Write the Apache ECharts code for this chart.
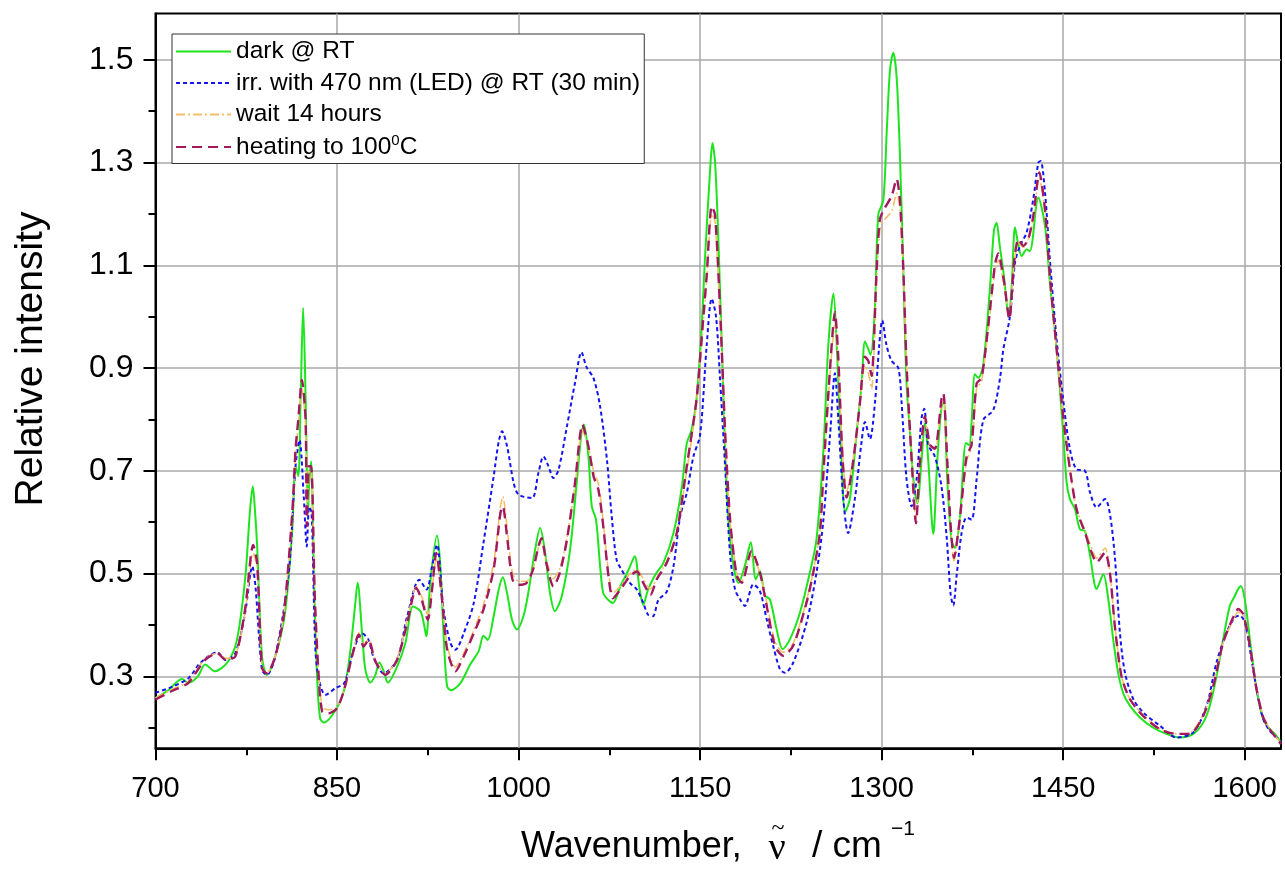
<!DOCTYPE html>
<html><head><meta charset="utf-8">
<script src="https://cdn.jsdelivr.net/npm/echarts@6/dist/echarts.min.js"></script>
<style>html,body{margin:0;padding:0;background:#fff}#chart{width:1285px;height:870px}</style>
</head><body><div id="chart"></div>
<script>
const xTicks = [700, 850, 1000, 1150, 1300, 1450, 1600];
const xMinorTicks = [775, 925, 1075, 1225, 1375, 1525];
const yTicks = [0.3, 0.5, 0.7, 0.9, 1.1, 1.3, 1.5];
const yMinorTicks = [0.2, 0.4, 0.6, 0.8, 1.0, 1.2, 1.4];
const seriesNames = ['dark @ RT', 'irr. with 470 nm (LED) @ RT (30 min)', 'wait 14 hours', 'heating to 100\u2070C'];

const darkRT = [[700,0.258],[710,0.272],[722,0.295],[727,0.287],[735,0.30],[741,0.323],[749,0.31],[759,0.326],[767,0.368],[774,0.488],[778,0.62],[780.4,0.670],[782,0.63],[784,0.553],[788,0.339],[792,0.303],[799,0.339],[807,0.423],[813,0.585],[815.7,0.709],[818,0.69],[820,0.85],[822,1.017],[824,0.845],[826,0.618],[827,0.676],[828.6,0.718],[831,0.488],[833.6,0.294],[836,0.219],[839,0.21],[849,0.235],[856,0.275],[861,0.35],[865,0.44],[867,0.482],[870.7,0.384],[873.4,0.313],[877.5,0.288],[881.7,0.303],[885,0.327],[888.6,0.31],[892,0.288],[899.6,0.319],[906.5,0.365],[912.8,0.436],[918.9,0.427],[921.6,0.404],[923.8,0.378],[927,0.482],[932.6,0.574],[935.4,0.514],[938,0.384],[940.9,0.281],[944,0.273],[952,0.287],[960,0.323],[967,0.349],[971,0.379],[974.5,0.371],[979.4,0.417],[983.6,0.469],[987,0.493],[990.5,0.462],[994.6,0.41],[998.7,0.391],[1004,0.417],[1008,0.462],[1013.7,0.547],[1017.8,0.589],[1022,0.54],[1026,0.462],[1030,0.427],[1035.7,0.456],[1042.6,0.547],[1048,0.676],[1052,0.774],[1054,0.79],[1057.7,0.728],[1060.5,0.631],[1064,0.605],[1067.4,0.514],[1070,0.462],[1074,0.449],[1078,0.443],[1084,0.475],[1091,0.508],[1096,0.534],[1099.7,0.475],[1103,0.439],[1107,0.469],[1113,0.498],[1119.7,0.521],[1128,0.579],[1135,0.67],[1139,0.754],[1143,0.78],[1147,0.838],[1151,0.968],[1154.1,1.116],[1158.3,1.287],[1160.2,1.338],[1162.4,1.30],[1165.1,1.15],[1167.9,0.946],[1170.7,0.741],[1173.4,0.605],[1177.5,0.517],[1181.7,0.482],[1187.2,0.517],[1191.9,0.561],[1196,0.489],[1199.4,0.505],[1203.6,0.457],[1207.7,0.45],[1213.2,0.392],[1218.2,0.353],[1224.2,0.372],[1232.5,0.424],[1240.7,0.502],[1246.2,0.567],[1251.9,0.741],[1256,0.946],[1260.2,1.045],[1262.8,0.95],[1266.9,0.721],[1269.9,0.62],[1273.8,0.646],[1279.3,0.773],[1283.5,0.87],[1286.2,0.952],[1289,0.937],[1290.9,0.926],[1294.5,1.019],[1297.2,1.198],[1301.4,1.227],[1304.1,1.354],[1306.9,1.48],[1309.6,1.514],[1312.4,1.466],[1315.1,1.317],[1317.9,1.093],[1320.6,0.87],[1324,0.758],[1326.2,0.684],[1329.5,0.637],[1333,0.721],[1335.8,0.795],[1338.5,0.721],[1342.7,0.577],[1346,0.721],[1349.5,0.825],[1351.5,0.833],[1354.2,0.684],[1357.8,0.564],[1360.6,0.55],[1364.7,0.609],[1369.7,0.754],[1372.4,0.75],[1374.3,0.795],[1377.1,0.888],[1379.9,0.881],[1384,0.907],[1389.5,1.056],[1392.8,1.168],[1395,1.183],[1397.5,1.14],[1401,1.08],[1405,1.0],[1407.5,1.06],[1410.2,1.174],[1413,1.14],[1415.7,1.118],[1419.8,1.131],[1422.5,1.128],[1429.5,1.232],[1435,1.177],[1439,1.067],[1444.6,0.937],[1450,0.774],[1452.9,0.677],[1455.6,0.645],[1459.8,0.625],[1463.9,0.586],[1468,0.583],[1472.2,0.535],[1477.7,0.47],[1483.2,0.499],[1487.3,0.45],[1492,0.36],[1496,0.3],[1500,0.265],[1505.1,0.243],[1513.4,0.22],[1524.4,0.20],[1535.4,0.188],[1546.4,0.181],[1557.5,0.188],[1565.7,0.21],[1571.2,0.243],[1576.7,0.30],[1582.2,0.372],[1587.7,0.437],[1591.9,0.457],[1594.6,0.47],[1596.8,0.476],[1600.1,0.45],[1604.3,0.372],[1609.8,0.275],[1615.3,0.217],[1620.8,0.197],[1625,0.188],[1630,0.171]];

const irradiated = [[700,0.268],[714,0.28],[727.5,0.297],[737,0.326],[751,0.347],[758,0.332],[766,0.345],[774,0.423],[780,0.514],[782.6,0.475],[788,0.313],[792,0.303],[799,0.339],[810,0.50],[815.7,0.709],[819,0.76],[822.5,0.65],[825,0.553],[827,0.63],[829,0.618],[832,0.358],[835,0.294],[840.5,0.264],[848.7,0.277],[856,0.287],[863.8,0.352],[870.7,0.384],[876,0.371],[880,0.339],[888.6,0.306],[899.6,0.332],[908,0.417],[918,0.488],[924,0.469],[928.5,0.514],[932.6,0.556],[938,0.43],[943.6,0.365],[947.8,0.352],[954.7,0.384],[963,0.443],[971,0.56],[979.4,0.689],[983.6,0.757],[986.3,0.777],[990.5,0.748],[996,0.676],[1000,0.654],[1011,0.647],[1016.4,0.696],[1020.6,0.728],[1024.7,0.709],[1028.8,0.686],[1033,0.702],[1040,0.787],[1046.6,0.871],[1052,0.931],[1056,0.903],[1062,0.88],[1067.4,0.825],[1073,0.722],[1077,0.611],[1081,0.527],[1085,0.508],[1092,0.482],[1097.7,0.469],[1103,0.443],[1107,0.42],[1111,0.417],[1115.6,0.449],[1122.5,0.465],[1128,0.514],[1133.5,0.611],[1139,0.657],[1144.5,0.728],[1150,0.77],[1155.5,0.946],[1159.6,1.035],[1163.2,1.0],[1166.5,0.878],[1170.7,0.707],[1174.8,0.537],[1178.9,0.469],[1183,0.45],[1187,0.437],[1194,0.479],[1199.4,0.466],[1205,0.411],[1210.4,0.359],[1216,0.314],[1220.1,0.307],[1227,0.327],[1238,0.405],[1246.2,0.502],[1251.7,0.6],[1257.4,0.77],[1261.4,0.89],[1264.2,0.8],[1268.3,0.646],[1272.3,0.579],[1277.9,0.646],[1283.5,0.758],[1286.2,0.795],[1290.3,0.762],[1294.5,0.833],[1298,0.944],[1300.5,0.993],[1304.1,0.944],[1308.3,0.914],[1313.8,0.9],[1316.5,0.833],[1320.6,0.684],[1324.8,0.631],[1328.9,0.684],[1333,0.803],[1335.2,0.821],[1338.5,0.751],[1344,0.728],[1349.5,0.669],[1353.7,0.572],[1357,0.46],[1359.2,0.438],[1362,0.497],[1366.1,0.579],[1370.2,0.609],[1374.3,0.605],[1378.5,0.684],[1384,0.799],[1392.2,0.818],[1397.8,0.88],[1400.6,0.937],[1406,1.0],[1410.2,1.105],[1414.3,1.138],[1419.8,1.164],[1425.3,1.229],[1429.5,1.30],[1431.4,1.303],[1435,1.242],[1439,1.112],[1444.6,0.956],[1450,0.839],[1455.6,0.742],[1461.1,0.703],[1468,0.70],[1472.2,0.658],[1477.7,0.629],[1484.6,0.645],[1488.7,0.615],[1492.8,0.53],[1496.9,0.385],[1501,0.308],[1507.9,0.256],[1516.1,0.23],[1529.9,0.204],[1543.7,0.181],[1557.5,0.191],[1568.5,0.243],[1576.7,0.327],[1585,0.385],[1591.9,0.415],[1596,0.418],[1600.1,0.405],[1604.3,0.353],[1609.8,0.275],[1615.3,0.217],[1620.8,0.194],[1626.3,0.181],[1630,0.171]];

const wait14h = [[700,0.258],[714,0.275],[727,0.29],[741,0.335],[751,0.345],[758,0.335],[766,0.34],[774,0.425],[780.7,0.54],[784,0.51],[788,0.32],[792,0.306],[799,0.339],[806,0.42],[813,0.61],[815.7,0.73],[818,0.79],[821,0.86],[824,0.79],[825.5,0.62],[827,0.70],[828.6,0.70],[831.6,0.46],[835,0.3],[838,0.24],[843,0.235],[850,0.24],[856,0.275],[862,0.335],[868,0.385],[872,0.362],[876,0.372],[881.7,0.332],[890,0.305],[899.6,0.335],[908,0.41],[915.5,0.475],[920,0.455],[925,0.42],[928.5,0.47],[932,0.53],[936.8,0.45],[941,0.36],[947.8,0.318],[954.7,0.345],[963,0.39],[971,0.44],[979.4,0.52],[985,0.63],[987,0.65],[990.5,0.59],[995,0.5],[1000,0.485],[1006.7,0.485],[1012,0.51],[1016.4,0.55],[1019,0.56],[1023,0.525],[1028.8,0.49],[1034,0.51],[1040,0.57],[1046.6,0.67],[1052.8,0.78],[1057.7,0.745],[1062,0.7],[1066,0.675],[1070,0.6],[1074,0.51],[1078,0.462],[1085,0.478],[1092,0.5],[1097.7,0.508],[1103,0.49],[1109,0.47],[1114,0.49],[1122.5,0.525],[1130.7,0.58],[1139,0.7],[1147,0.83],[1152.7,0.99],[1155.5,1.07],[1159.6,1.20],[1162.4,1.185],[1166.5,1.0],[1170.7,0.77],[1174.8,0.6],[1180.3,0.5],[1184.4,0.485],[1191.3,0.535],[1198.2,0.51],[1205,0.445],[1210.4,0.38],[1214,0.358],[1218.7,0.347],[1227,0.365],[1238,0.448],[1243.5,0.505],[1249,0.58],[1252,0.7],[1257.4,0.89],[1261.4,0.985],[1264.2,0.91],[1267.8,0.73],[1271.1,0.66],[1276.6,0.725],[1282.1,0.83],[1286.2,0.905],[1289,0.89],[1291.7,0.86],[1295.9,1.07],[1298.6,1.17],[1302.7,1.19],[1308.3,1.205],[1312.4,1.24],[1315.1,1.21],[1317.9,1.09],[1320.6,0.91],[1324.8,0.725],[1328.4,0.605],[1331.7,0.72],[1335.8,0.795],[1339.9,0.75],[1344,0.74],[1349.5,0.83],[1351,0.84],[1354.2,0.72],[1357,0.59],[1359.8,0.525],[1364.7,0.605],[1370.2,0.72],[1374.3,0.745],[1378.5,0.86],[1382.6,0.875],[1388.1,0.975],[1393.6,1.09],[1396.4,1.11],[1400.5,1.07],[1402,1.05],[1405.5,1.0],[1409.4,1.1],[1413,1.145],[1417.1,1.135],[1421.2,1.15],[1425.3,1.19],[1430.3,1.27],[1435,1.205],[1439,1.075],[1444.6,0.935],[1450,0.805],[1455.6,0.7],[1461.1,0.625],[1468,0.585],[1473.5,0.55],[1477.7,0.53],[1484.6,0.55],[1488.7,0.5],[1492.7,0.4],[1498.2,0.3],[1505.1,0.256],[1516.1,0.225],[1529.9,0.198],[1543.7,0.188],[1554.7,0.19],[1565.7,0.225],[1574,0.283],[1582.2,0.365],[1590.5,0.41],[1594.6,0.425],[1598.8,0.418],[1604.3,0.36],[1609.8,0.278],[1615.3,0.222],[1620.8,0.198],[1630,0.17]];

const heating100 = [[700,0.255],[714,0.272],[727,0.287],[741,0.332],[751,0.345],[758,0.332],[766,0.339],[774,0.43],[780.7,0.556],[784,0.52],[788,0.316],[792,0.306],[799,0.339],[806,0.42],[813,0.618],[815.7,0.741],[818,0.8],[821,0.877],[824,0.80],[825,0.592],[826.7,0.709],[828.6,0.709],[831.6,0.456],[835,0.294],[837.7,0.232],[843,0.228],[850,0.238],[856,0.275],[862,0.335],[868,0.381],[872,0.358],[876,0.371],[881.7,0.329],[890,0.303],[899.6,0.332],[908,0.404],[915.5,0.472],[920,0.449],[925,0.41],[928.5,0.469],[932,0.54],[936.8,0.449],[941,0.352],[947.8,0.31],[954.7,0.339],[963,0.384],[971,0.43],[979.4,0.508],[985,0.618],[987,0.631],[990.5,0.572],[995,0.488],[1000,0.478],[1006.7,0.482],[1012,0.508],[1016.4,0.553],[1019,0.569],[1023,0.52],[1028.8,0.475],[1034,0.501],[1040,0.566],[1046.6,0.676],[1052.8,0.79],[1057.7,0.748],[1062,0.689],[1066,0.663],[1070,0.592],[1074,0.501],[1078,0.452],[1085,0.472],[1092,0.495],[1097.7,0.504],[1103,0.482],[1109,0.459],[1114,0.488],[1122.5,0.521],[1130.7,0.579],[1139,0.709],[1147,0.838],[1152.7,1.0],[1155.5,1.082],[1159.6,1.215],[1162.4,1.198],[1166.5,1.014],[1170.7,0.776],[1174.8,0.605],[1180.3,0.496],[1184.4,0.482],[1192.5,0.544],[1199.4,0.502],[1205,0.437],[1210.4,0.372],[1214,0.35],[1218.7,0.34],[1227,0.36],[1238,0.444],[1243.5,0.502],[1249,0.58],[1252,0.7],[1257.4,0.9],[1261.4,1.009],[1264.2,0.92],[1267.8,0.721],[1271.1,0.648],[1276.6,0.721],[1282.1,0.833],[1286.2,0.922],[1289,0.914],[1291.7,0.885],[1295.9,1.093],[1298.6,1.19],[1302.7,1.212],[1308.3,1.235],[1312.4,1.268],[1315.1,1.227],[1317.9,1.093],[1320.6,0.907],[1324.8,0.721],[1328.4,0.598],[1331.7,0.721],[1335.8,0.806],[1339.9,0.751],[1344,0.743],[1349.5,0.84],[1351,0.851],[1354.2,0.721],[1357,0.594],[1359.8,0.531],[1364.7,0.609],[1370.2,0.728],[1374.3,0.751],[1378.5,0.87],[1382.6,0.881],[1388.1,0.982],[1393.6,1.101],[1396.4,1.123],[1400.5,1.078],[1402,1.054],[1405.5,0.995],[1409.4,1.105],[1413,1.151],[1417.1,1.138],[1421.2,1.151],[1425.3,1.196],[1430.3,1.281],[1435,1.209],[1439,1.08],[1444.6,0.937],[1450,0.807],[1455.6,0.703],[1461.1,0.625],[1468,0.58],[1473.5,0.541],[1477.7,0.522],[1484.6,0.541],[1488.7,0.50],[1492.7,0.398],[1498.2,0.30],[1505.1,0.256],[1516.1,0.223],[1529.9,0.197],[1543.7,0.188],[1554.7,0.188],[1565.7,0.223],[1574,0.281],[1582.2,0.366],[1590.5,0.415],[1594.6,0.431],[1598.8,0.421],[1604.3,0.359],[1609.8,0.275],[1615.3,0.22],[1620.8,0.197],[1630,0.168]];

const FONT = '"Liberation Sans", Arial, Helvetica, sans-serif';
const SERIF = '"Liberation Serif", "DejaVu Serif", serif';
const chart = echarts.init(document.getElementById('chart'), null, {renderer: 'canvas'});

const option = {
  animation: false,
  backgroundColor: '#fff',
  grid: {left: 155.5, right: 4, top: 13.6, bottom: 121.7, show: true, borderColor: '#000', borderWidth: 2, backgroundColor: 'transparent'},
  xAxis: [
    {type: 'value', min: 700, max: 1630, position: 'bottom',
     axisLine: {show: true, onZero: false, lineStyle: {color: '#000', width: 2}},
     axisTick: {show: true, length: 12, customValues: xTicks, lineStyle: {color: '#000', width: 2}},
     axisLabel: {customValues: xTicks, fontSize: 29, color: '#000', fontFamily: FONT, margin: 26, formatter: v => String(v)},
     splitLine: {show: true, lineStyle: {color: '#a8a8a8', width: 1.5}}},
    {type: 'value', min: 700, max: 1630, position: 'bottom',
     axisLine: {show: false, onZero: false},
     axisTick: {show: true, length: 7, customValues: xMinorTicks, lineStyle: {color: '#000', width: 2}},
     axisLabel: {show: false}, splitLine: {show: false}}
  ],
  yAxis: [
    {type: 'value', min: 0.16, max: 1.59, position: 'left',
     axisLine: {show: true, onZero: false, lineStyle: {color: '#000', width: 2}},
     axisTick: {show: true, length: 12, customValues: yTicks, lineStyle: {color: '#000', width: 2}},
     axisLabel: {customValues: yTicks, fontSize: 32, color: '#000', fontFamily: FONT, margin: 22, formatter: v => v.toFixed(1)},
     splitLine: {show: true, lineStyle: {color: '#a8a8a8', width: 1.5}}},
    {type: 'value', min: 0.16, max: 1.59, position: 'left',
     axisLine: {show: false, onZero: false},
     axisTick: {show: true, length: 7, customValues: yMinorTicks, lineStyle: {color: '#000', width: 2}},
     axisLabel: {show: false}, splitLine: {show: false}}
  ],
  legend: {
    orient: 'vertical', left: 172, top: 34,
    itemWidth: 55, itemHeight: 14, itemGap: 6.5,
    padding: [5, 4, 4, 3],
    borderColor: '#333', borderWidth: 1, backgroundColor: '#fff',
    itemStyle: {opacity: 0},
    textStyle: {fontSize: 24.5, fontFamily: FONT, color: '#000',
      rich: {sup: {fontSize: 15, fontFamily: FONT, color: '#000', padding: [0, 0, 12, 0]}}},
    formatter: n => n === seriesNames[3] ? 'heating to 100{sup|0}C' : n,
    data: seriesNames
  },
  series: [
    {name: seriesNames[0], type: 'line', data: darkRT, showSymbol: false, symbol: 'none', smooth: 0.3, z: 2,
     lineStyle: {color: '#1ee41e', width: 2}, itemStyle: {color: '#1ee41e'}},
    {name: seriesNames[1], type: 'line', data: irradiated, showSymbol: false, symbol: 'none', smooth: 0.3, z: 3,
     lineStyle: {color: '#1414f0', width: 2, type: [4, 3]}, itemStyle: {color: '#1414f0'}},
    {name: seriesNames[2], type: 'line', data: wait14h, showSymbol: false, symbol: 'none', smooth: 0.25, z: 4,
     lineStyle: {color: '#f5bd6a', width: 1.6, type: [9, 3, 2, 3]}, itemStyle: {color: '#f5bd6a'}},
    {name: seriesNames[3], type: 'line', data: heating100, showSymbol: false, symbol: 'none', smooth: 0.25, z: 5,
     lineStyle: {color: '#a3185e', width: 2.4, type: [10, 6]}, itemStyle: {color: '#a3185e'}}
  ],
  graphic: [
    {type: 'text', x: 31, y: 359, rotation: Math.PI / 2,
     style: {text: 'Relative intensity', fontSize: 39, fontFamily: FONT, fill: '#000', align: 'center', verticalAlign: 'middle'}},
    {type: 'group', x: 0, y: 0, children: [
      {type: 'text', x: 521, y: 847, style: {text: 'Wavenumber,', fontSize: 36, fontFamily: FONT, fill: '#000', align: 'left', verticalAlign: 'middle'}},
      {type: 'text', x: 777, y: 849, style: {text: '\u03BD', fontSize: 38, fontFamily: SERIF, fill: '#000', align: 'center', verticalAlign: 'middle'}},
      {type: 'text', x: 778, y: 829, style: {text: '~', fontSize: 24, fontFamily: SERIF, fill: '#000', align: 'center', verticalAlign: 'middle'}},
      {type: 'text', x: 812, y: 847, style: {text: '/ cm', fontSize: 37, fontFamily: FONT, fill: '#000', align: 'left', verticalAlign: 'middle'}},
      {type: 'text', x: 891, y: 829, style: {text: '\u22121', fontSize: 21, fontFamily: FONT, fill: '#000', align: 'left', verticalAlign: 'middle'}}
    ]}
  ]
};
chart.setOption(option);
</script></body></html>
